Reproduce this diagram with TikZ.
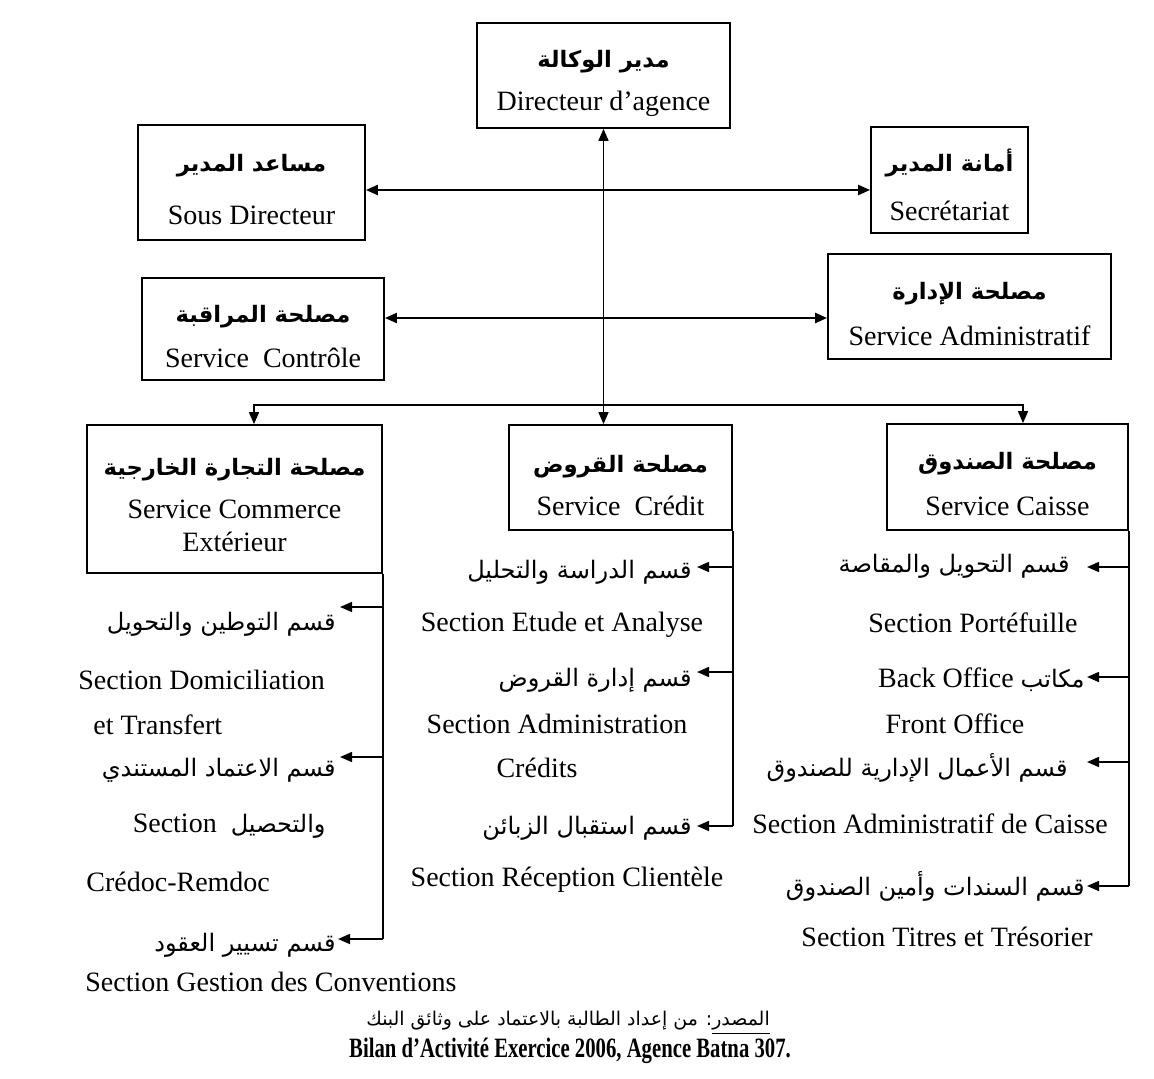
\documentclass[tikz,border=0pt]{standalone}
\usepackage{fontspec}
\usepackage{graphicx}
\usepackage{tikz}
\usetikzlibrary{arrows.meta}
\setmainfont{Liberation Serif}
\newfontfamily\arfont[Script=Arabic,Scale=0.86]{DejaVu Sans}
\newfontfamily\arbfont[Script=Arabic,Scale=0.81]{DejaVu Sans}
\TeXXeTstate=1
\newcommand{\artxt}[1]{{\arfont\beginR #1\endR}}
\newcommand{\arbold}[1]{{\arbfont\bfseries\beginR #1\endR}}

\begin{document}
\begin{tikzpicture}[x=0.5pt, y=-0.5pt,
box/.style={draw, line width=0.9pt, inner sep=0pt},
boxtxt/.style={align=center, inner sep=0pt, font=\fontsize{14}{21.5}\selectfont},
sect/.style={inner sep=0pt, font=\fontsize{14}{17}\selectfont},
arr/.style={-{Triangle[length=6pt,width=5pt]}, line width=0.8pt},
link/.style={{Triangle[length=6pt,width=5pt]}-{Triangle[length=6pt,width=5pt]}, line width=1.2pt}]

\useasboundingbox (0,0) rectangle (1154,1079);

% Direction and staff boxes
\node[box, minimum width=126.5pt, minimum height=52.5pt] (dir) at (603.5,75.5) {};
\node[boxtxt] (dirtxt) at ([yshift=-4pt]dir.center) {\arbold{مدير الوكالة}\\Directeur d’agence};
\node[box, minimum width=113.5pt, minimum height=57.5pt] (sdir) at (251.5,182.5) {};
\node[boxtxt] (sdirtxt) at ([yshift=-3.5pt]sdir.center) {\arbold{مساعد المدير}\\[5pt]Sous Directeur};
\node[box, minimum width=78.5pt, minimum height=53pt] (secr) at (949.5,180) {};
\node[boxtxt] (secrtxt) at ([yshift=-2.5pt]secr.center) {\arbold{أمانة المدير}\\[3pt]Secrétariat};
\node[box, minimum width=121pt, minimum height=51pt] (ctrl) at (263,329) {};
\node[boxtxt] (ctrltxt) at ([yshift=-4pt]ctrl.center) {\arbold{مصلحة المراقبة}\\[1pt]Service\ \ Contrôle};
\node[box, minimum width=141.5pt, minimum height=52.5pt] (adm) at (969.5,306.5) {};
\node[boxtxt] (admtxt) at ([yshift=-4pt]adm.center) {\arbold{مصلحة الإدارة}\\[1.5pt]Service Administratif};

% Services
\node[box, minimum width=147.5pt, minimum height=74pt] (com) at (234.5,499) {};
\node[boxtxt] (comtxt) at ([yshift=-3pt]com.center) {\arbold{مصلحة التجارة الخارجية}\\Service Commerce\\[-5pt]Extérieur};
\node[box, minimum width=111.5pt, minimum height=52.5pt] (cred) at (620.5,477.5) {};
\node[boxtxt] (credtxt) at ([yshift=-4pt]cred.center) {\arbold{مصلحة القروض}\\Service\ \ Crédit};
\node[box, minimum width=120.5pt, minimum height=53pt] (caisse) at (1007.5,477) {};
\node[boxtxt] (caissetxt) at ([yshift=-3.5pt]caisse.center) {\arbold{مصلحة الصندوق}\\[1.5pt]Service Caisse};

% Links between direction and the services
\coordinate (bus) at (604,405);
\draw[link, line width=0.8pt] (dir.south) -- (dir.south |- cred.north);
\draw[link] ([yshift=-3.75pt]sdir.east) -- ([yshift=-3.75pt]sdir.east -| secr.west);
\draw[link] ([yshift=5.5pt]ctrl.east) -- ([yshift=5.5pt]ctrl.east -| adm.west);
\draw[arr] (bus) -| ([xshift=9.75pt]com.north);
\draw[arr] (bus) -| ([xshift=7.75pt]caisse.north);

% Sections of Service Commerce Exterieur
\coordinate (ce1) at (340,607);
\coordinate (ce2) at (340,757);
\coordinate (ce3) at (338,939);
\draw[line width=0.8pt] (com.south east) -- (com.south east |- ce3);
\draw[arr] (com.south east |- ce1) -- (ce1);
\draw[arr] (com.south east |- ce2) -- (ce2);
\draw[arr] (com.south east |- ce3) -- (ce3);
\node[sect, anchor=east] (ce1a) at (336,624) {\artxt{قسم التوطين والتحويل}};
\node[sect, anchor=west] (ce1b) at (78,680) {Section Domiciliation};
\node[sect, anchor=west] (ce1c) at (93,725) {et Transfert};
\node[sect, anchor=east] (ce2a) at (336,770) {\artxt{قسم الاعتماد المستندي}};
\node[sect, anchor=east] (ce2b) at (326,826) {Section\ \ \artxt{والتحصيل}};
\node[sect, anchor=west] (ce2c) at (86,882) {Crédoc-Remdoc};
\node[sect, anchor=east] (ce3a) at (336,945) {\artxt{قسم تسيير العقود}};
\node[sect, anchor=west] (ce3b) at (85,982) {Section Gestion des Conventions};

% Sections of Service Credit
\coordinate (cr1) at (697,567);
\coordinate (cr2) at (697,672);
\coordinate (cr3) at (697,826);
\draw[line width=0.8pt] (cred.south east) -- (cred.south east |- cr3);
\draw[arr] (cred.south east |- cr1) -- (cr1);
\draw[arr] (cred.south east |- cr2) -- (cr2);
\draw[arr] (cred.south east |- cr3) -- (cr3);
\node[sect, anchor=east] (cr1a) at (692,572) {\artxt{قسم الدراسة والتحليل}};
\node[sect] (cr1b) at (562,625) {Section Etude et Analyse};
\node[sect, anchor=east] (cr2a) at (692,680) {\artxt{قسم إدارة القروض}};
\node[sect] (cr2b) at (557,724) {Section Administration};
\node[sect] (cr2c) at (537,768) {Crédits};
\node[sect, anchor=east] (cr3a) at (692,828) {\artxt{قسم استقبال الزبائن}};
\node[sect] (cr3b) at (567,880) {Section Réception Clientèle};

% Sections of Service Caisse
\coordinate (ca1) at (1087,567);
\coordinate (ca2) at (1087,677);
\coordinate (ca3) at (1087,762);
\coordinate (ca4) at (1087,886);
\draw[line width=0.8pt] (caisse.south east) -- (caisse.south east |- ca4);
\draw[arr] (caisse.south east |- ca1) -- (ca1);
\draw[arr] (caisse.south east |- ca2) -- (ca2);
\draw[arr] (caisse.south east |- ca3) -- (ca3);
\draw[arr] (caisse.south east |- ca4) -- (ca4);
\node[sect, anchor=east] (ca1a) at (1070,566) {\artxt{قسم التحويل والمقاصة}};
\node[sect] (ca1b) at (973,623) {Section Portéfuille};
\node[sect, anchor=east] (ca2a) at (1085,680) {Back Office \artxt{مكاتب}};
\node[sect] (ca2b) at (955,724) {Front Office};
\node[sect, anchor=east] (ca3a) at (1068,768) {\artxt{قسم الأعمال الإدارية للصندوق}};
\node[sect] (ca3b) at (930,824) {Section Administratif de Caisse};
\node[sect, anchor=east] (ca4a) at (1085,886) {\artxt{قسم السندات وأمين الصندوق}};
\node[sect] (ca4b) at (947,937) {Section Titres et Trésorier};

% Source
\node[inner sep=0pt, font=\fontsize{11}{13}\selectfont] (src) at (568,1023) {\artxt{\underline{المصدر}: من إعداد الطالبة بالاعتماد على وثائق البنك}};
\node[sect] (bilan) at (570,1051) {\bfseries\scalebox{0.74}[1]{Bilan d’Activité Exercice 2006, Agence Batna 307.}};
\end{tikzpicture}
\end{document}
